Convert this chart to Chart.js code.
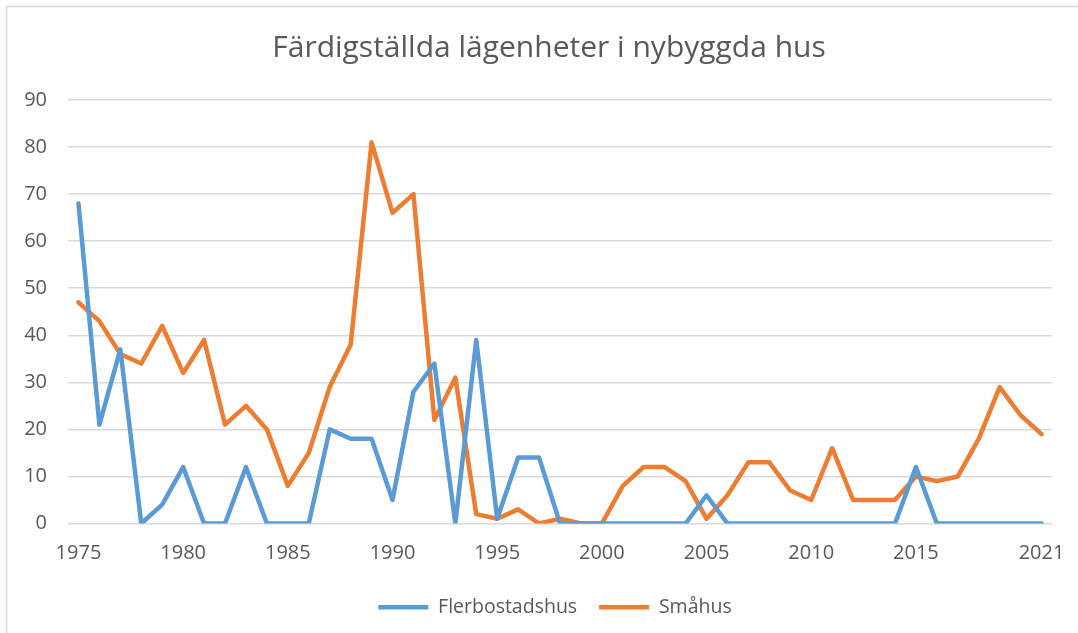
<!DOCTYPE html>
<html>
<head>
<meta charset="utf-8">
<script src="https://cdn.jsdelivr.net/npm/chart.js@4"></script>
<style>
  html, body { margin: 0; padding: 0; background: #fff; }
  #wrap { width: 1078px; height: 633px; position: relative; }
</style>
</head>
<body>
<div id="wrap"><canvas id="graph" width="1078" height="633"></canvas></div>
<script>
const years = [];
for (let y = 1975; y <= 2021; y++) years.push(String(y));

const flerbostadshus = [68, 21, 37, 0, 4, 12, 0, 0, 12, 0, 0, 0, 20, 18, 18, 5, 28, 34, 0, 39,
  1, 14, 14, 0, 0, 0, 0, 0, 0, 0, 6, 0, 0, 0, 0, 0, 0, 0, 0, 0, 12, 0, 0, 0, 0, 0, 0];
const smahus = [47, 43, 36, 34, 42, 32, 39, 21, 25, 20, 8, 15, 29, 38, 81, 66, 70, 22, 31, 2,
  1, 3, 0, 1, 0, 0, 8, 12, 12, 9, 1, 6, 13, 13, 7, 5, 16, 5, 5, 5, 10, 9, 10, 18, 29, 23, 19];
const shownYears = ["1975", "1980", "1985", "1990", "1995", "2000", "2005", "2010", "2015", "2021"];

const textColor = "#595959";
const gridColor = "#d9d9d9";

// light frame around the chart, like the Excel chart border
const frame = {
  id: "frame",
  beforeDraw(chart) {
    const ctx = chart.ctx;
    ctx.save();
    ctx.fillStyle = "#fff";
    ctx.fillRect(0, 0, chart.width, chart.height);
    ctx.strokeStyle = gridColor;
    ctx.lineWidth = 1.5;
    ctx.strokeRect(6.5, 6.5, chart.width + 20, chart.height + 20);
    ctx.restore();
  },
};

// title and legend sit centred a bit further right, as in the Excel chart
const shiftBoxes = {
  id: "shiftBoxes",
  afterLayout(chart) {
    chart.legend.left += 29;
    chart.legend.right += 29;
    chart.titleBlock.left += 23;
    chart.titleBlock.right += 23;
  },
};

function lineSet(label, data, color) {
  return {
    label: label,
    data: data,
    borderColor: color,
    backgroundColor: color,
    borderWidth: 4.5,
    pointRadius: 0,
    pointHoverRadius: 0,
    tension: 0,
    borderJoinStyle: "round",
    borderCapStyle: "round",
  };
}

const ctx = document.getElementById("graph");
new Chart(ctx, {
  type: "line",
  data: {
    labels: years,
    datasets: [
      lineSet("Flerbostadshus", flerbostadshus, "#5b9bd5"),
      lineSet("Småhus", smahus, "#ed7d31"),
    ],
  },
  plugins: [frame, shiftBoxes],
  options: {
    responsive: false,
    animation: false,
    layout: { padding: { left: 0, right: 26, top: 0, bottom: 6 } },
    plugins: {
      title: {
        display: true,
        text: "Färdigställda lägenheter i nybyggda hus",
        color: textColor,
        font: { family: "Open Sans", size: 30, weight: "normal" },
        padding: { top: 30, bottom: 34 },
      },
      legend: {
        position: "bottom",
        labels: {
          color: textColor,
          font: { family: "Open Sans", size: 19.5 },
          usePointStyle: true,
          pointStyle: "line",
          pointStyleWidth: 50,
          padding: 22,
        },
      },
      tooltip: { enabled: false },
    },
    scales: {
      x: {
        offset: true,
        grid: { display: false, drawTicks: false },
        border: { display: false },
        ticks: {
          autoSkip: false,
          maxRotation: 0,
          color: textColor,
          font: { family: "Open Sans", size: 20 },
          padding: 18,
          callback: function (value, index) {
            const lab = years[index];
            return shownYears.includes(lab) ? lab : "";
          },
        },
        afterFit(scale) {
          scale.height = 52;
          scale.paddingLeft = 0;
          scale.paddingRight = 0;
        },
      },
      y: {
        min: 0,
        max: 90,
        grid: { color: gridColor, lineWidth: 1.5, drawTicks: false },
        border: { display: false },
        ticks: {
          stepSize: 10,
          color: textColor,
          font: { family: "Open Sans", size: 20 },
          padding: 21,
        },
        afterFit(scale) { scale.width = 68; },
      },
    },
  },
});
</script>
</body>
</html>
